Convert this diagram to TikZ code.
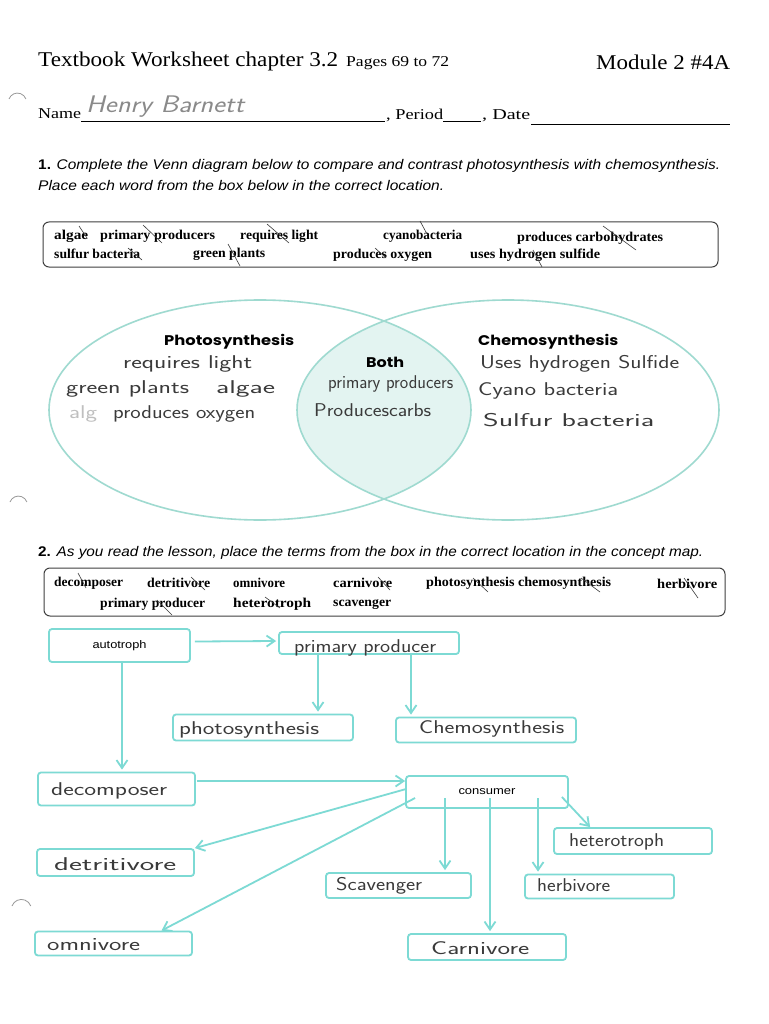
\documentclass[tikz,border=0pt]{standalone}
\usepackage{fontspec}
\setmainfont{Liberation Serif}
\newfontfamily\arialf{Liberation Sans}
\newfontfamily\vennf{Poppins}
\usetikzlibrary{arrows.meta,calc}
\definecolor{turq}{HTML}{7DDAD4}
\definecolor{vennline}{HTML}{9FDAD0}
\definecolor{lensfill}{HTML}{E3F4F1}
\definecolor{ink}{HTML}{3A3A3A}
\definecolor{pencil}{HTML}{8A8A8A}
\newcommand\fw[2]{\resizebox{#1pt}{\height}{#2}}
\newcommand\fsz[1]{\fontsize{#1}{#1}\selectfont}
\begin{document}
\begin{tikzpicture}[x=1pt,y=-1pt,
  txt/.style={inner sep=0pt, anchor=west},
  hand/.style={txt, font=\sffamily\fsz{18.5}, text=ink},
  word/.style={txt, font=\fsz{13.5}\bfseries},
  vlabel/.style={txt, font=\vennf\fsz{14}\bfseries},
  mapbox/.style={draw=turq, line width=1.8pt, rounded corners=3pt, fill=white, inner sep=0pt},
  maparrow/.style={draw=turq, line width=1.8pt, -{Straight Barb[length=8pt,width=11pt]}},
  tick/.style={draw=ink, line width=0.6pt},
  wordbox/.style={draw=black!75, line width=1pt, rounded corners=6pt, inner sep=0pt},
  punch/.style={draw=black!40, line width=0.8pt},
  venn/.style={draw=vennline, line width=1.6pt}]
\useasboundingbox[fill=white] (0,0) rectangle (768,1024);

% hole punch marks
\draw[punch] (9,99) arc[start angle=160, end angle=20, radius=9pt];
\draw[punch] (10,502) arc[start angle=160, end angle=20, radius=9pt];
\draw[punch] (12,906) arc[start angle=160, end angle=20, radius=10pt];

% header
\node[txt, font=\fsz{21}] (title) at (38,61) {\fw{300}{Textbook Worksheet chapter 3.2}};
\node[txt, font=\fsz{15}] (pages) at (346,63) {\fw{103}{Pages 69 to 72}};
\node[txt, font=\fsz{21}] (module) at (596,62) {\fw{134}{Module 2 \#4A}};

\node[txt, font=\fsz{15}] (name) at (38,114) {\fw{43}{Name}};
\draw (81,121) -- (385,121);
\node[txt, text=pencil, font=\sffamily\itshape\fsz{24}] (sig) at (86,107) {\fw{158}{Henry Barnett}};
\node[txt, font=\fsz{15}] (period) at (386,115) {\fw{57}{, Period}};
\draw (443,121) -- (481,121);
\node[txt, font=\fsz{15}] (date) at (482,116) {\fw{48}{, Date}};
\draw (531,124) -- (730,124);

% question 1
\node[txt, font=\arialf\fsz{14}] (q1a) at (38,166) {\fw{682}{\textbf{1.} \textit{Complete the Venn diagram below to compare and contrast photosynthesis with chemosynthesis.}}};
\node[txt, font=\arialf\fsz{14}] (q1b) at (38,186) {\fw{406}{\itshape Place each word from the box below in the correct location.}};

% word box 1
\node[wordbox, minimum width=675pt, minimum height=45pt] (box1) at (380.5,244.5) {};
\node[word] (w1) at (54,236) {\fw{34}{algae}};
\node[word] (w2) at (100,236) {\fw{115}{primary producers}};
\node[word] (w3) at (240,236) {\fw{78}{requires light}};
\node[word] (w4) at (383,236) {\fw{79}{cyanobacteria}};
\node[word] (w5) at (517,238) {\fw{146}{produces carbohydrates}};
\node[word] (w6) at (54,254) {\fw{86}{sulfur bacteria}};
\node[word] (w7) at (193,254) {\fw{72}{green plants}};
\node[word] (w8) at (333,255) {\fw{99}{produces oxygen}};
\node[word] (w9) at (470,255) {\fw{130}{uses hydrogen sulfide}};
\draw[tick] (79,226) -- (87,238);
\draw[tick] (143,225) -- (162,243);
\draw[tick] (267,224) -- (289,243);
\draw[tick] (128,248) -- (142,260);
\draw[tick] (228,244) -- (240,266);
\draw[tick] (420,221) -- (427,234);
\draw[tick] (603,226) -- (636,250);
\draw[tick] (375,248) -- (386,258);
\draw[tick] (533,250) -- (542,267);

% Venn diagram
\begin{scope}
  \clip (260,410) ellipse [x radius=211pt, y radius=110pt];
  \fill[lensfill] (508,410) ellipse [x radius=211pt, y radius=110pt];
\end{scope}
\draw[venn] (260,410) ellipse [x radius=211pt, y radius=110pt];
\draw[venn] (508,410) ellipse [x radius=211pt, y radius=110pt];

\node[vlabel] (vphoto) at (164,342) {\fw{130}{Photosynthesis}};
\node[vlabel] (vchemo) at (478,342) {\fw{140}{Chemosynthesis}};
\node[vlabel] (vboth) at (366,362) {\fw{38}{Both}};

\node[hand] (h1) at (123,364) {\fw{129}{requires light}};
\node[hand] (h2) at (66,389) {\fw{123}{green plants}};
\node[hand] (h3) at (216,389) {\fw{59}{algae}};
\node[hand, text=black!25] (h4) at (69,414) {\fw{28}{alg}};
\node[hand] (h5) at (113,414) {\fw{142}{produces oxygen}};
\node[hand] (h6) at (328,384) {\fw{125}{primary producers}};
\node[hand] (h7) at (314,410) {\fw{117}{Producescarbs}};
\node[hand] (h8) at (480,364) {\fw{199}{Uses hydrogen Sulfide}};
\node[hand] (h9) at (478,391) {\fw{140}{Cyano bacteria}};
\node[hand] (h10) at (483,420) {\fw{171}{Sulfur bacteria}};

% question 2
\node[txt, font=\arialf\fsz{14}] (q2) at (38,553) {\fw{665}{\textbf{2.} \textit{As you read the lesson, place the terms from the box in the correct location in the concept map.}}};

% word box 2
\node[wordbox, minimum width=681pt, minimum height=48pt] (box2) at (384.5,592) {};
\node[word] (v1) at (54,583) {\fw{69}{decomposer}};
\node[word] (v2) at (147,583) {\fw{63}{detritivore}};
\node[word] (v3) at (233,583) {\fw{52}{omnivore}};
\node[word] (v4) at (333,583) {\fw{59}{carnivore}};
\node[word] (v5) at (426,583) {\fw{185}{photosynthesis chemosynthesis}};
\node[word] (v6) at (657,584) {\fw{60}{herbivore}};
\node[word] (v7) at (100,604) {\fw{105}{primary producer}};
\node[word] (v8) at (233,604) {\fw{78}{heterotroph}};
\node[word] (v9) at (333,605) {\fw{58}{scavenger}};
\draw[tick] (78,573) -- (86,588);
\draw[tick] (191,577) -- (205,590);
\draw[tick] (157,600) -- (172,615);
\draw[tick] (265,597) -- (280,608);
\draw[tick] (378,577) -- (390,590);
\draw[tick] (473,578) -- (488,592);
\draw[tick] (581,578) -- (600,592);
\draw[tick] (684,578) -- (698,598);

% concept map boxes
\node[mapbox, minimum width=141pt, minimum height=33pt] (auto) at (119.5,645.5) {\arialf\fsz{11}\fw{54}{autotroph}};
\node[mapbox, minimum width=180pt, minimum height=22pt] (pp) at (369,643) {};
\node[mapbox, minimum width=180pt, minimum height=26pt] (photo) at (263,727.5) {};
\node[mapbox, minimum width=180pt, minimum height=25pt] (chemo) at (486,730) {};
\node[mapbox, minimum width=157pt, minimum height=33pt] (decomp) at (116.5,789) {};
\node[mapbox, minimum width=162pt, minimum height=32pt] (cons) at (487,792) {\arialf\fsz{11}\fw{57}{consumer}};
\node[mapbox, minimum width=157pt, minimum height=27pt] (detri) at (115.5,862.5) {};
\node[mapbox, minimum width=157pt, minimum height=24pt] (omni) at (113.5,943.5) {};
\node[mapbox, minimum width=145pt, minimum height=25pt] (scav) at (398.5,885.5) {};
\node[mapbox, minimum width=158pt, minimum height=26pt] (carni) at (487,947) {};
\node[mapbox, minimum width=149pt, minimum height=24pt] (herbi) at (599.5,886.5) {};
\node[mapbox, minimum width=158pt, minimum height=26pt] (hetero) at (633,841) {};

% handwritten answers in the map
\node[hand] (a1) at (294,648) {\fw{142}{primary producer}};
\node[hand] (a2) at (179,730) {\fw{140}{photosynthesis}};
\node[hand] (a3) at (419,729) {\fw{145}{Chemosynthesis}};
\node[hand] (a4) at (51,791) {\fw{116}{decomposer}};
\node[hand] (a5) at (54,864) {\fw{122}{detritivore}};
\node[hand] (a6) at (47,945) {\fw{93}{omnivore}};
\node[hand] (a7) at (336,886) {\fw{86}{Scavenger}};
\node[hand] (a8) at (431,948) {\fw{98}{Carnivore}};
\node[hand] (a9) at (537,885) {\fw{73}{herbivore}};
\node[hand] (a10) at (569,842) {\fw{95}{heterotroph}};

% connectors
\draw[maparrow] ($(auto.east)+(4,-4)$) -- ($(pp.west)+(-2,-2)$);
\draw[maparrow] ($(auto.south)+(2.5,0)$) -- ($(decomp.north)+(5.5,-2)$);
\draw[maparrow] ($(pp.south)+(-51,0)$) -- ($(photo.north)+(55,-2)$);
\draw[maparrow] ($(pp.south)+(42,0)$) -- ($(chemo.north)+(-75,-2)$);
\draw[maparrow] ($(decomp.east)+(1,-8)$) -- ($(cons.west)+(0,-11)$);
\draw[maparrow] ($(cons.west)+(1,-3)$) -- (detri.north east);
\draw[maparrow] ($(cons.west)+(10,6)$) -- ($(omni.north)+(48,0)$);
\draw[maparrow] ($(cons.center)+(-42,6)$) -- ($(scav.north)+(46.5,-2)$);
\draw[maparrow] ($(cons.center)+(3,6)$) -- ($(carni.north)+(3,-2)$);
\draw[maparrow] ($(cons.center)+(51,6)$) -- ($(herbi.north)+(-61.5,-2)$);
\draw[maparrow] ($(cons.east)+(-7,5)$) -- ($(hetero.north west)+(37,0)$);
\end{tikzpicture}
\end{document}
